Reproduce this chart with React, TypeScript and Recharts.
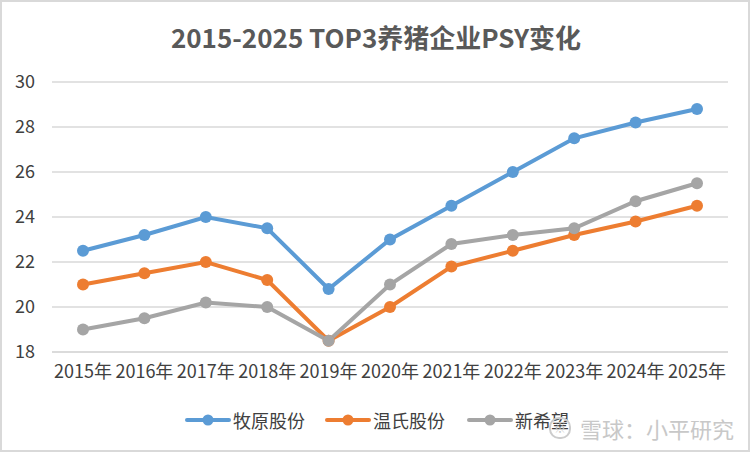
import React from 'react';
import { LineChart, Line, XAxis, YAxis, CartesianGrid } from 'recharts';

const years = ['2015年', '2016年', '2017年', '2018年', '2019年', '2020年', '2021年', '2022年', '2023年', '2024年', '2025年'];
const muyuan = [22.5, 23.2, 24.0, 23.5, 20.8, 23.0, 24.5, 26.0, 27.5, 28.2, 28.8];
const wens = [21.0, 21.5, 22.0, 21.2, 18.5, 20.0, 21.8, 22.5, 23.2, 23.8, 24.5];
const newHope = [19.0, 19.5, 20.2, 20.0, 18.5, 21.0, 22.8, 23.2, 23.5, 24.7, 25.5];
const yTicks = [18, 20, 22, 24, 26, 28, 30];

const seriesDefs = [
  { key: 'muyuan', name: '牧原股份', color: '#5B9BD5', values: muyuan },
  { key: 'wens', name: '温氏股份', color: '#ED7D31', values: wens },
  { key: 'newHope', name: '新希望', color: '#A5A5A5', values: newHope },
];

const data = years.map((y, i) => {
  const row: any = { year: y };
  seriesDefs.forEach((s) => { row[s.key] = s.values[i]; });
  return row;
});

const FONT = '"Noto Sans CJK SC", "Noto Sans", sans-serif';

export default function App() {
  return (
    <div style={{ position: 'fixed', left: 0, top: 0, width: 752, height: 452, background: '#fff' }}>
      <div style={{ position: 'absolute', left: 0, top: 0, width: 746, height: 448, border: '2px solid #d9d9d9', boxSizing: 'content-box' }} />
      <div style={{ position: 'absolute', left: 0, top: 17, width: 752, textAlign: 'center', fontFamily: FONT, fontWeight: 700, fontSize: 26, color: '#595959', lineHeight: '40px' }}>
        2015-2025 TOP3养猪企业PSY变化
      </div>
      <div style={{ position: 'absolute', left: 0, top: 0 }}>
        <LineChart width={752} height={452} data={data} margin={{ top: 82, right: 24, bottom: 70, left: 0 }}>
          <CartesianGrid vertical={false} stroke="#d9d9d9" strokeWidth={1.5} />
          <XAxis
            dataKey="year"
            height={30}
            tickLine={false}
            axisLine={{ stroke: '#d9d9d9', strokeWidth: 1.5 }}
            tick={{ fill: '#404040', fontSize: 18, fontFamily: FONT }}
            tickMargin={7}
            interval={0}
            padding={{ left: 31, right: 31 }}
          />
          <YAxis
            width={52}
            domain={[18, 30]}
            ticks={yTicks}
            tickLine={false}
            axisLine={false}
            tick={{ fill: '#404040', fontSize: 18, fontFamily: FONT }}
            tickMargin={11}
          />
          {seriesDefs.map((s) => (
            <Line
              key={s.key}
              type="linear"
              dataKey={s.key}
              name={s.name}
              stroke={s.color}
              strokeWidth={4}
              dot={{ r: 6, fill: s.color, stroke: s.color, strokeWidth: 0 }}
              isAnimationActive={false}
            />
          ))}
        </LineChart>
      </div>
      <div style={{ position: 'absolute', left: 185, top: 406, height: 28, display: 'flex', alignItems: 'center' }}>
        {seriesDefs.map((s, i) => (
          <div key={s.key} style={{ display: 'flex', alignItems: 'center', marginRight: i === 0 ? 20 : 22 }}>
            <svg width={46} height={14} style={{ display: 'block' }}>
              <line x1={2} y1={7} x2={44} y2={7} stroke={s.color} strokeWidth={4} strokeLinecap="round" />
              <circle cx={23} cy={7} r={5.5} fill={s.color} />
            </svg>
            <span style={{ fontFamily: FONT, fontSize: 18, color: '#404040', marginLeft: 2 }}>{s.name}</span>
          </div>
        ))}
      </div>
      <div style={{ position: 'absolute', left: 549, top: 413, display: 'flex', alignItems: 'center', color: '#c8c8c8', fontFamily: FONT, fontSize: 22, lineHeight: '30px' }}>
        <span style={{ display: 'inline-block', width: 18, height: 18, borderRadius: 10, border: '2px solid #cccccc', fontSize: 12, lineHeight: '18px', textAlign: 'center', marginRight: 9 }}>※</span>
        雪球：小平研究
      </div>
    </div>
  );
}
